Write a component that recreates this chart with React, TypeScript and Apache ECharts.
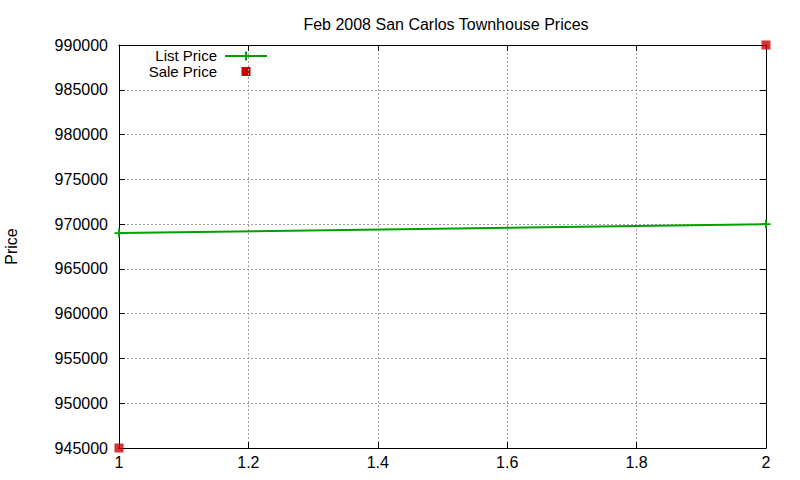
import React, { useEffect, useRef } from "react";
import * as echarts from "echarts";

const title = "Feb 2008 San Carlos Townhouse Prices";
const yAxisName = "Price";
const listPriceX = [1, 2];
const listPriceY = [969000, 970000];
const salePriceX = [1, 2];
const salePriceY = [945000, 990000];
const seriesNames = ["List Price", "Sale Price"];

const FONT = "Liberation Sans, Arial, sans-serif";
const GREEN = "#00a000";
const RED = "#cc0000";
const PLUS = "path://M4,0H6V4H10V6H6V10H4V6H0V4H4Z";

export default function App() {
  const ref = useRef<HTMLDivElement>(null);
  useEffect(() => {
    if (!ref.current) return;
    const chart = echarts.init(ref.current, null, { renderer: "svg" });
    const axisCommon = {
      type: "value" as const,
      axisLine: { show: true, onZero: false, lineStyle: { color: "#000", width: 1 } },
      axisTick: { show: true, inside: true, length: 6, lineStyle: { color: "#000" } },
    };
    chart.setOption({
      animation: false,
      backgroundColor: "#fff",
      title: {
        text: title,
        left: 441,
        top: 11,
        textAlign: "center",
        textStyle: { fontFamily: FONT, fontSize: 16, fontWeight: "normal", color: "#000" },
      },
      grid: {
        left: 119,
        right: 34,
        top: 45,
        bottom: 32,
        containLabel: false,
        outerBoundsMode: "none",
      },
      xAxis: [
        {
          ...axisCommon,
          position: "bottom",
          min: 1,
          max: 2,
          interval: 0.2,
          axisLabel: {
            fontFamily: FONT,
            fontSize: 16,
            color: "#000",
            margin: 6,
            formatter: (v: number) => String(Math.round(v * 10) / 10),
          },
          splitLine: { show: true, lineStyle: { color: "#a0a0a0", type: [2, 2], width: 1 } },
        },
        {
          ...axisCommon,
          position: "top",
          min: 1,
          max: 2,
          interval: 0.2,
          axisLabel: { show: false },
          splitLine: { show: false },
        },
      ],
      yAxis: [
        {
          ...axisCommon,
          position: "left",
          min: 945000,
          max: 990000,
          interval: 5000,
          name: yAxisName,
          nameLocation: "middle",
          nameRotate: 90,
          nameGap: 100,
          nameTextStyle: { fontFamily: FONT, fontSize: 16, color: "#000" },
          axisLabel: {
            fontFamily: FONT,
            fontSize: 16,
            color: "#000",
            margin: 11,
            formatter: (v: number) => String(v),
          },
          splitLine: { show: true, lineStyle: { color: "#a0a0a0", type: [2, 2], width: 1 } },
        },
        {
          ...axisCommon,
          position: "right",
          min: 945000,
          max: 990000,
          interval: 5000,
          axisLabel: { show: false },
          splitLine: { show: false },
        },
      ],
      series: [
        {
          name: seriesNames[0],
          type: "line",
          data: listPriceX.map((x, i) => [x, listPriceY[i]]),
          symbol: PLUS,
          symbolSize: 9,
          showSymbol: true,
          lineStyle: { color: GREEN, width: 2 },
          itemStyle: { color: GREEN },
          z: 3,
        },
        {
          name: seriesNames[1],
          type: "scatter",
          data: salePriceX.map((x, i) => [x, salePriceY[i]]),
          symbol: "rect",
          symbolSize: 9,
          itemStyle: { color: RED },
          z: 4,
        },
      ],
      graphic: [
        {
          type: "text",
          x: 217,
          y: 55.5,
          style: {
            text: seriesNames[0],
            fontFamily: FONT,
            fontSize: 15,
            lineHeight: 14,
            fill: "#000",
            align: "right",
            verticalAlign: "middle",
          },
        },
        {
          type: "line",
          shape: { x1: 225, y1: 56, x2: 267, y2: 56 },
          style: { stroke: GREEN, lineWidth: 2 },
        },
        {
          type: "line",
          shape: { x1: 246, y1: 51.5, x2: 246, y2: 60.5 },
          style: { stroke: GREEN, lineWidth: 2 },
        },
        {
          type: "text",
          x: 217,
          y: 71.5,
          style: {
            text: seriesNames[1],
            fontFamily: FONT,
            fontSize: 15,
            lineHeight: 14,
            fill: "#000",
            align: "right",
            verticalAlign: "middle",
          },
        },
        {
          type: "rect",
          shape: { x: 241.5, y: 67, width: 9, height: 9 },
          style: { fill: RED },
        },
      ],
    });
    return () => chart.dispose();
  }, []);
  return (
    <div
      ref={ref}
      style={{ position: "absolute", left: 0, top: 0, width: 800, height: 480 }}
    />
  );
}
